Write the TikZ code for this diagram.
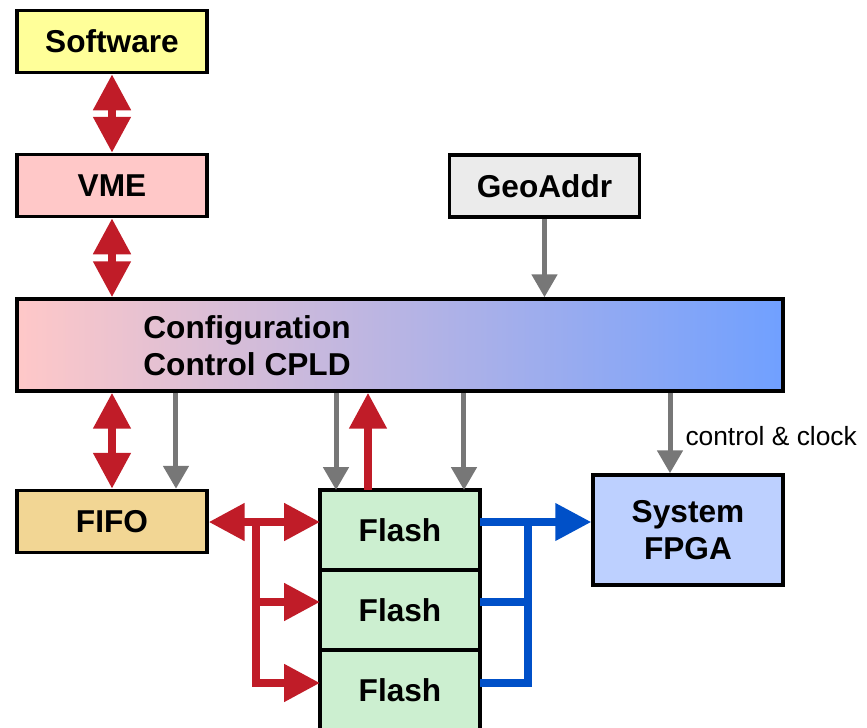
\documentclass[tikz,border=0pt]{standalone}
\usepackage{fontspec}
\setmainfont{Liberation Sans}
\usetikzlibrary{arrows.meta,positioning}

\definecolor{swyellow}{HTML}{FFFF99}
\definecolor{vmepink}{HTML}{FFC8C8}
\definecolor{geogray}{HTML}{EBEBEB}
\definecolor{fifotan}{HTML}{F2D694}
\definecolor{flashgreen}{HTML}{CCEFD0}
\definecolor{fpgablue}{HTML}{BDD0FF}
\definecolor{cpldL}{HTML}{FFC8C8}
\definecolor{cpldR}{HTML}{70A0FF}
\definecolor{busred}{HTML}{C01C28}
\definecolor{busblue}{HTML}{0050C8}
\definecolor{ctlgray}{HTML}{777777}

\begin{document}
\begin{tikzpicture}[x=0.02cm, y=-0.02cm,
	Fat/.tip={Triangle[width=0.72cm,length=0.72cm]},
	Slim/.tip={Triangle[width=0.5cm,length=0.46cm]},
	blk/.style={draw, line width=2pt, inner sep=0pt, align=center,
		font=\fontsize{18}{21}\selectfont\bfseries,
		minimum width=3.8cm, minimum height=1.24cm},
	flash/.style={blk, fill=flashgreen, outer sep=0pt,
		minimum width=3.2cm, minimum height=1.6cm},
	rbus/.style={draw=busred, line width=0.16cm},
	bbus/.style={draw=busblue, line width=0.15cm},
	ctl/.style={draw=ctlgray, line width=0.1cm, -Slim}]

				\useasboundingbox (0,0) rectangle (867,728);
				\clip (0,0) rectangle (867,728);

				\node[blk, fill=swyellow] (SW) at (112,41.5) {Software};
				\node[blk, fill=vmepink] (VME) at (112,185.5) {VME};
				\node[blk, fill=geogray] (Geo) at (544.5,186) {GeoAddr};
				\node[draw, line width=2pt, left color=cpldL, right color=cpldR,
					minimum width=15.32cm, minimum height=1.84cm] (CPLD) at (400,345) {};
				\node[anchor=west, inner sep=0pt, align=left,
					font=\fontsize{18}{21}\selectfont\bfseries] (CPLDtxt) at (143,346)
					{Configuration\\Control CPLD};
				\node[blk, fill=fifotan] (FIFO) at (112,521.5) {FIFO};
				\node[flash] (F1) at (400,530) {Flash};
				\node[flash, below=0pt of F1] (F2) {Flash};
				\node[flash, below=0pt of F2] (F3) {Flash};
				\node[blk, fill=fpgablue, minimum height=2.2cm] (FPGA) at (688,530) {System\\FPGA};

				\coordinate (L1) at ([yshift=-0.64cm]F1.north west);
				\coordinate (L2) at ([yshift=-0.64cm]F2.north west);
				\coordinate (L3) at ([yshift=-0.66cm]F3.north west);
				\coordinate (R1) at ([yshift=-0.64cm]F1.north east);
				\coordinate (R2) at ([yshift=-0.64cm]F2.north east);
				\coordinate (R3) at ([yshift=-0.66cm]F3.north east);
				\coordinate (RJ) at (256,522);
				\coordinate (BJ) at (528,522);

				\draw[rbus, Fat-Fat] (SW.south) -- (VME.north);
				\draw[rbus, Fat-Fat] (VME.south) -- (VME.south |- CPLD.north);
				\draw[ctl] (Geo.south) -- (Geo.south |- CPLD.north);

				\draw[rbus, Fat-Fat] (FIFO.north |- CPLD.south) -- (FIFO.north);
				\draw[ctl] ([xshift=1.28cm]FIFO.north |- CPLD.south) -- ([xshift=1.28cm]FIFO.north);
				\draw[ctl] ([xshift=-1.28cm]F1.north |- CPLD.south) -- ([xshift=-1.28cm]F1.north);
				\draw[rbus, -Fat] ([xshift=-0.64cm]F1.north) -- ([xshift=-0.64cm]F1.north |- CPLD.south);
				\draw[ctl] ([xshift=1.28cm]F1.north |- CPLD.south) -- ([xshift=1.28cm]F1.north);
				\draw[ctl] ([xshift=-0.36cm]FPGA.north |- CPLD.south) --
					node[pos=0.54, anchor=west, xshift=0.26cm, inner sep=0pt,
						font=\fontsize{15}{18}\selectfont] (CC) {control \& clock}
					([xshift=-0.36cm]FPGA.north);

				\draw[rbus, Fat-Fat] (FIFO.east |- L1) -- (L1);
				\draw[rbus, -Fat, line join=miter] (RJ) |- (L3);
				\draw[rbus, -Fat] (RJ |- L2) -- (L2);

				\draw[bbus, -Fat] (R1) -- (FPGA.west |- R1);
				\draw[bbus, line join=miter] (BJ) |- (R3);
				\draw[bbus] (R2) -- (BJ |- R2);

			\end{tikzpicture}
\end{document}
